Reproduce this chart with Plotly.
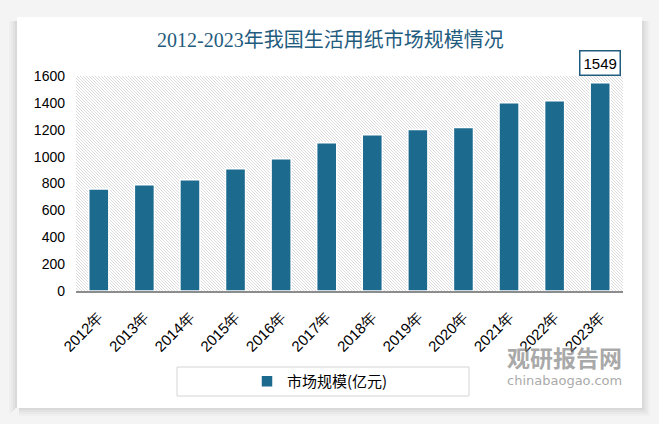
import base64
import plotly.graph_objects as go

years = ["2012年", "2013年", "2014年", "2015年", "2016年", "2017年",
         "2018年", "2019年", "2020年", "2021年", "2022年", "2023年"]
market_size = [760, 790, 827, 909, 984, 1103, 1163, 1202, 1217, 1401, 1416, 1549]
y_ticks = [0, 200, 400, 600, 800, 1000, 1200, 1400, 1600]
series_name = "市场规模(亿元)"
title_text = "2012-2023年我国生活用纸市场规模情况"

W, H = 659, 424
L, R, T, B = 76, 36, 76, 133
PW, PH = W - L - R, H - T - B

def px(x):
    return (x - L) / PW

def py(y):
    return (H - B - y) / PH

bar_color = "#1c6a8e"
title_color = "#1f5c7e"
outer_bg = "#f4f4f4"

# hatched plot background as inline SVG
lines = "".join(
    f'<line x1="{i}" y1="0" x2="{i + PH}" y2="{PH}" stroke="#dcdcdc" stroke-width="1"/>'
    for i in range(-PH, PW + 3, 3)
)
svg = (f'<svg xmlns="http://www.w3.org/2000/svg" width="{PW}" height="{PH}" '
       f'viewBox="0 0 {PW} {PH}" preserveAspectRatio="none">'
       f'<rect width="{PW}" height="{PH}" fill="#ffffff"/>{lines}</svg>')
svg_uri = "data:image/svg+xml;base64," + base64.b64encode(svg.encode()).decode()

fig = go.Figure()
fig.add_trace(go.Bar(
    x=years, y=market_size, name=series_name,
    marker=dict(color=bar_color, line=dict(color="white", width=1.5)),
    width=0.44,
))

CL, CR, CT, CB = 17, 642, 17, 408

def rect(x0, x1, y0, y1, color, layer="below"):
    return dict(type="rect", xref="paper", yref="paper", layer=layer,
                x0=px(x0), x1=px(x1), y0=py(y1), y1=py(y0),
                fillcolor=color, line=dict(width=0))

shapes = [
    rect(-5, W + 5, -5, CT, outer_bg),
    rect(-5, W + 5, CB, H + 5, outer_bg),
    rect(-5, CL, CT, CB, outer_bg),
    rect(CR, W + 5, CT, CB, outer_bg),
]
for i, c in enumerate(["#d9d9d9", "#e2e2e2", "#e9e9e9", "#efefef"]):
    d = i * 2
    shapes.append(rect(CR + d, CR + d + 2, CT + 4, CB + d + 2, c))
    shapes.append(rect(CL + 2, CR + d + 2, CB + d, CB + d + 2, c))
    shapes.append(rect(CL - d - 2, CL - d, CT + 4, CB + d, c))
shapes.append(dict(type="rect", xref="paper", yref="paper",
                   x0=px(177), x1=px(469), y0=py(396), y1=py(367),
                   fillcolor="rgba(0,0,0,0)", line=dict(color="#d4d4d4", width=1)))

annotations = [
    dict(text=title_text, xref="paper", yref="paper", x=px(330), y=py(40),
         xanchor="center", yanchor="middle", showarrow=False,
         font=dict(family="Liberation Serif, Noto Sans CJK SC", size=20, color=title_color)),
    dict(text=str(market_size[-1]), x=years[-1], y=market_size[-1], xref="x", yref="y",
         xanchor="center", yanchor="bottom", yshift=7, showarrow=False,
         bgcolor="white", bordercolor=title_color, borderwidth=1.5, borderpad=3,
         font=dict(family="Liberation Sans", size=15, color="black")),
    dict(text="<b>观研报告网</b>", xref="paper", yref="paper", x=px(624), y=py(357),
         xanchor="right", yanchor="middle", showarrow=False,
         font=dict(family="Noto Sans CJK SC", size=23, color="rgba(130,130,130,0.7)")),
    dict(text="chinabaogao.com", xref="paper", yref="paper", x=px(624), y=py(380),
         xanchor="right", yanchor="middle", showarrow=False,
         font=dict(family="DejaVu Sans", size=13, color="rgba(130,130,130,0.7)")),
]

fig.update_layout(
    width=W, height=H,
    margin=dict(l=L, r=R, t=T, b=B, autoexpand=False),
    paper_bgcolor="white",
    plot_bgcolor="rgba(0,0,0,0)",
    showlegend=True,
    legend=dict(orientation="h", x=px(320), y=py(381.5), xanchor="center", yanchor="middle",
                bgcolor="rgba(0,0,0,0)", borderwidth=0,
                font=dict(family="Noto Sans CJK SC", size=15, color="black")),
    xaxis=dict(tickangle=-45, showgrid=False, showline=True, linecolor="#8c8c8c", linewidth=1.5,
               ticks="", ticklabelstandoff=10,
               tickfont=dict(family="Liberation Sans", size=15, color="black"),
               automargin=False),
    yaxis=dict(range=[0, 1600], tickvals=y_ticks, showgrid=False, zeroline=False,
               showline=False, ticks="", ticklabelstandoff=10,
               tickfont=dict(family="Liberation Sans", size=14, color="black"),
               automargin=False),
    shapes=shapes,
    annotations=annotations,
    images=[dict(source=svg_uri, xref="paper", yref="paper", x=0, y=1, sizex=1, sizey=1,
                 xanchor="left", yanchor="top", sizing="stretch", layer="below")],
)

fig.write_html("out.html", config={"displayModeBar": False},
               post_script="document.body.style.margin='0';")
